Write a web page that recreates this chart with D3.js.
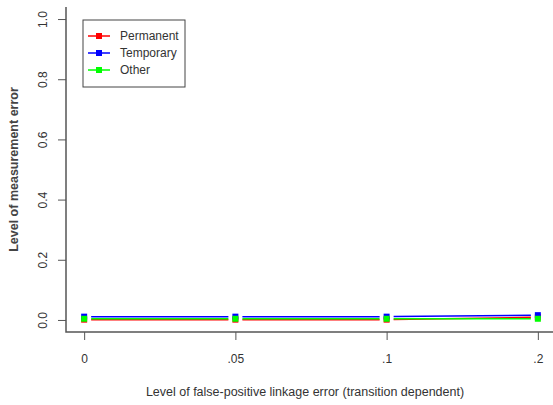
<!DOCTYPE html>
<html>
<head>
<meta charset="utf-8">
<script src="https://cdn.jsdelivr.net/npm/d3@7"></script>
<style>
  body { margin: 0; background: #fff; }
  svg text { font-family: "Liberation Sans", Arial, sans-serif; fill: #333; }
</style>
</head>
<body>
<div id="chart"></div>
<script>
var categories = ["0", ".05", ".1", ".2"];
var permanent = [0.001, 0.001, 0.001, 0.009];
var temporary = [0.011, 0.011, 0.011, 0.016];
var other = [0.004, 0.004, 0.004, 0.004];
var yTicks = [0, 0.2, 0.4, 0.6, 0.8, 1.0];
var seriesNames = ["Permanent", "Temporary", "Other"];
var seriesColors = ["#ff0000", "#0000ff", "#00ff00"];

var width = 553, height = 405;
var plotLeft = 66, plotRight = 556, plotTop = 7, plotBottom = 332;

var svg = d3.select("#chart").append("svg")
    .attr("width", width)
    .attr("height", height);

var x = d3.scalePoint().domain(categories).range([plotLeft, plotRight]).padding(0.12);
var y = d3.scaleLinear().domain([-0.04, 1.04]).range([plotBottom, plotTop]);

// L shaped box
svg.append("path")
    .attr("d", "M" + plotLeft + "," + plotTop + "V" + plotBottom + "H" + width)
    .attr("fill", "none")
    .attr("stroke", "#555")
    .attr("stroke-width", 1.5);

var yAxis = svg.append("g")
    .attr("transform", "translate(" + plotLeft + ",0)")
    .call(d3.axisLeft(y).tickValues(yTicks).tickSize(8).tickFormat(d3.format(".1f")));
yAxis.select(".domain").remove();
yAxis.selectAll(".tick line").attr("stroke", "#555");
yAxis.selectAll(".tick text")
    .attr("x", 0).attr("dy", 0)
    .attr("transform", "translate(-23,0) rotate(-90)")
    .attr("text-anchor", "middle")
    .attr("dominant-baseline", "central")
    .style("font-size", "12px")
    .style("font-family", "Liberation Sans, Arial, sans-serif")
    .attr("fill", "#333");

var xAxis = svg.append("g")
    .attr("transform", "translate(0," + plotBottom + ")")
    .call(d3.axisBottom(x).tickSize(8));
xAxis.select(".domain").remove();
xAxis.selectAll(".tick line").attr("stroke", "#555");
xAxis.selectAll(".tick text")
    .attr("y", 22)
    .style("font-size", "12px")
    .style("font-family", "Liberation Sans, Arial, sans-serif")
    .attr("fill", "#333");

svg.append("text")
    .attr("transform", "translate(18," + ((y(0) + y(1)) / 2) + ") rotate(-90)")
    .attr("text-anchor", "middle")
    .style("font-size", "12.5px")
    .style("font-weight", "bold")
    .style("fill", "#444")
    .text("Level of measurement error");

svg.append("text")
    .attr("x", 305)
    .attr("y", 396)
    .attr("text-anchor", "middle")
    .style("font-size", "12.5px")
    .text("Level of false-positive linkage error (transition dependent)");

// lines with gaps around points (type = "b")
var gap = 7;
var allSeries = [permanent, temporary, other];
allSeries.forEach(function(vals, s) {
  var g = svg.append("g");
  for (var i = 0; i < vals.length - 1; i++) {
    var x1 = x(categories[i]), y1 = y(vals[i]);
    var x2 = x(categories[i + 1]), y2 = y(vals[i + 1]);
    var len = Math.sqrt((x2 - x1) * (x2 - x1) + (y2 - y1) * (y2 - y1));
    var ux = (x2 - x1) / len, uy = (y2 - y1) / len;
    g.append("line")
        .attr("x1", x1 + ux * gap).attr("y1", y1 + uy * gap)
        .attr("x2", x2 - ux * gap).attr("y2", y2 - uy * gap)
        .attr("stroke", seriesColors[s])
        .attr("stroke-width", 1.5);
  }
});
allSeries.forEach(function(vals, s) {
  svg.append("g").selectAll("rect")
      .data(vals)
      .enter().append("rect")
      .attr("x", function(d, i) { return x(categories[i]) - 3; })
      .attr("y", function(d) { return y(d) - 3; })
      .attr("width", 6)
      .attr("height", 6)
      .attr("fill", seriesColors[s]);
});

// legend
var legend = svg.append("g");
legend.append("rect")
    .attr("x", 83).attr("y", 20)
    .attr("width", 102).attr("height", 67)
    .attr("fill", "#fff")
    .attr("stroke", "#444");
seriesNames.forEach(function(name, i) {
  var ly = 36 + i * 17;
  legend.append("line")
      .attr("x1", 88).attr("x2", 110)
      .attr("y1", ly).attr("y2", ly)
      .attr("stroke", seriesColors[i]).attr("stroke-width", 1.5);
  legend.append("rect")
      .attr("x", 96).attr("y", ly - 3)
      .attr("width", 6).attr("height", 6)
      .attr("fill", seriesColors[i]);
  legend.append("text")
      .attr("x", 120).attr("y", ly)
      .attr("dy", "0.35em")
      .style("font-size", "12px")
      .text(name);
});
</script>
</body>
</html>
